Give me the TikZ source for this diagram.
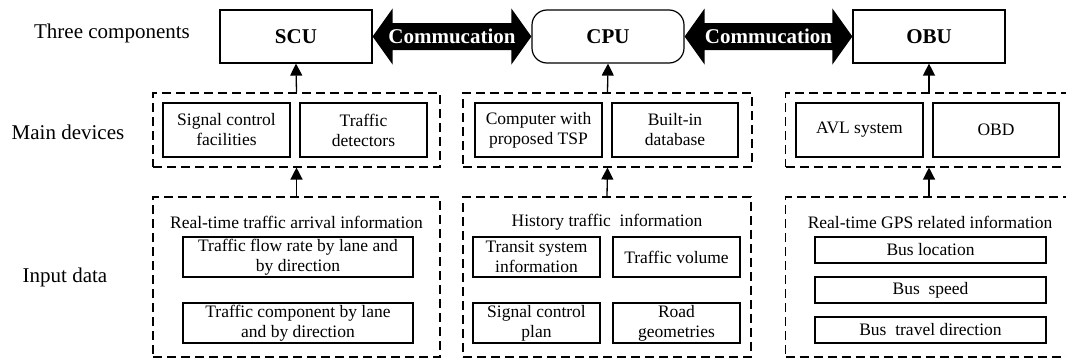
\documentclass[tikz,border=0pt]{standalone}
\usepackage{fontspec}
\setmainfont{Liberation Serif}
\usetikzlibrary{arrows.meta,calc}
\begin{document}
\begin{tikzpicture}[x=1pt,y=-1pt,
  solidbox/.style={draw, line width=1.2pt, inner sep=0pt, align=center, font=\fontsize{17.5}{20}\selectfont},
  topbox/.style={draw, line width=1.2pt, minimum width=152pt, minimum height=53pt, inner sep=0pt, font=\fontsize{21}{24}\selectfont\bfseries},
  groupbox/.style={draw, line width=1.1pt, dash pattern=on 9pt off 5pt, inner sep=0pt},
  lab/.style={font=\fontsize{21}{24}\selectfont},
  ttl/.style={font=\fontsize{17.5}{20}\selectfont},
  up/.style={-{Triangle[width=12pt,length=12pt]}, line width=1.3pt},
  commtext/.style={text=white, font=\fontsize{21}{24}\selectfont\bfseries}
]
\clip (0,0) rectangle (1066,359);

% left labels
\node[lab] (l1) at (112,33) {Three components};
\node[lab] (l2) at (68,132) {Main devices};
\node[lab] (l3) at (65,277) {Input data};

% top components
\node[topbox] (SCU) at (296,36.5) {SCU};
\node[topbox, rounded corners=15pt] (CPU) at (608,36.5) {CPU};
\node[topbox] (OBU) at (929,36.5) {OBU};

% communication arrows
\fill (SCU.east) -- ($(SCU.east)+(20,-28)$) -- ($(SCU.east)+(20,-13.5)$) -- ($(CPU.west)+(-20,-13.5)$) -- ($(CPU.west)+(-20,-28)$) -- (CPU.west) -- ($(CPU.west)+(-20,28)$) -- ($(CPU.west)+(-20,13.5)$) -- ($(SCU.east)+(20,13.5)$) -- ($(SCU.east)+(20,28)$) -- cycle;
\node[commtext] (c1) at ($(SCU.east)!0.5!(CPU.west)$) {Commucation};
\fill (CPU.east) -- ($(CPU.east)+(20,-28)$) -- ($(CPU.east)+(20,-13.5)$) -- ($(OBU.west)+(-20,-13.5)$) -- ($(OBU.west)+(-20,-28)$) -- (OBU.west) -- ($(OBU.west)+(-20,28)$) -- ($(OBU.west)+(-20,13.5)$) -- ($(CPU.east)+(20,13.5)$) -- ($(CPU.east)+(20,28)$) -- cycle;
\node[commtext] (c2) at ($(CPU.east)!0.5!(OBU.west)$) {Commucation};

% main devices
\node[groupbox, minimum width=287pt, minimum height=74pt] (mSCU) at (296.5,130) {};
\node[groupbox, minimum width=289pt, minimum height=74pt] (mCPU) at (607.5,130) {};
\node[groupbox, minimum width=287pt, minimum height=74pt] (mOBU) at (929,130) {};
\node[solidbox, minimum width=127pt, minimum height=54pt] (scf) at (226.5,130) {Signal control\\facilities};
\node[solidbox, minimum width=127pt, minimum height=54pt] (td) at (363.5,130) {Traffic\\detectors};
\node[solidbox, minimum width=127pt, minimum height=54pt] (cwp) at (538.5,130) {Computer with\\proposed TSP};
\node[solidbox, minimum width=126pt, minimum height=54pt] (bid) at (675,130) {Built-in\\database};
\node[solidbox, minimum width=127pt, minimum height=54pt] (avl) at (859.5,130) {AVL system};
\node[solidbox, minimum width=126pt, minimum height=54pt] (obd) at (996,130) {OBD};

% input data
\node[groupbox, minimum width=287pt, minimum height=160pt] (bSCU) at (296.5,277) {};
\node[groupbox, minimum width=288pt, minimum height=160pt] (bCPU) at (607,277) {};
\node[groupbox, minimum width=287pt, minimum height=160pt] (bOBU) at (929,277) {};
\node[ttl] (t1) at (296.5,222) {Real-time traffic arrival information};
\node[ttl] (t2) at (607,222) {History traffic\ \ information};
\node[ttl] (t3) at (930,222) {Real-time GPS related information};
\node[solidbox, minimum width=230pt, minimum height=40pt] (tf1) at (298,257) {Traffic flow rate by lane and\\by direction};
\node[solidbox, minimum width=230pt, minimum height=40pt] (tf2) at (298,323) {Traffic component by lane\\and by direction};
\node[solidbox, minimum width=127pt, minimum height=40pt] (tsi) at (536.5,257) {Transit system\\information};
\node[solidbox, minimum width=127pt, minimum height=40pt] (tv) at (676.5,257) {Traffic volume};
\node[solidbox, minimum width=127pt, minimum height=40pt] (scp) at (536.5,323) {Signal control\\plan};
\node[solidbox, minimum width=127pt, minimum height=40pt] (rg) at (676.5,323) {Road\\geometries};
\node[solidbox, minimum width=231pt, minimum height=26pt] (bl) at (930.5,250) {Bus location};
\node[solidbox, minimum width=231pt, minimum height=26pt] (bs) at (930.5,290) {Bus\ \ speed};
\node[solidbox, minimum width=231pt, minimum height=26pt] (btd) at (930.5,330) {Bus\ \ travel direction};

% vertical arrows
\draw[up] (mSCU.north) -- (SCU.south);
\draw[up] (mCPU.north) -- (CPU.south);
\draw[up] (mOBU.north) -- (OBU.south);
\draw[up] (bSCU.north) -- (mSCU.south);
\draw[up] (bCPU.north) -- (mCPU.south);
\draw[up] (bOBU.north) -- (mOBU.south);
\end{tikzpicture}
\end{document}
